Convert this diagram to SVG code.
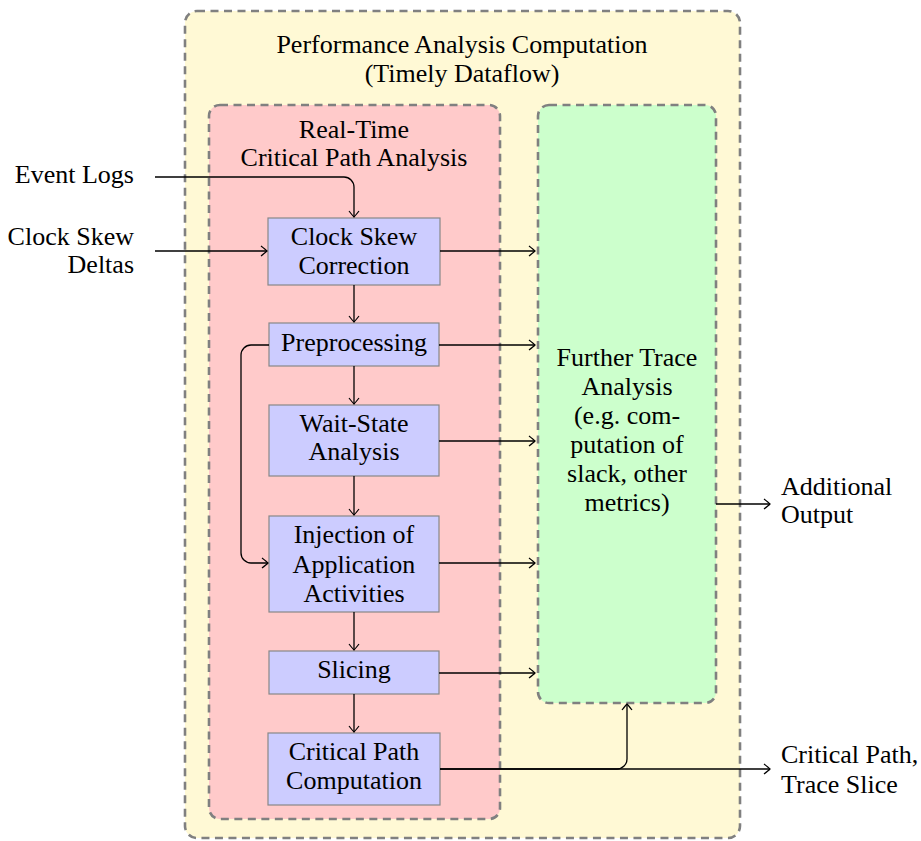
<svg xmlns="http://www.w3.org/2000/svg" width="921" height="841" viewBox="0 0 921 841">
  <defs>
    <marker id="arr" markerWidth="12" markerHeight="12" refX="0" refY="0" viewBox="-7 -6 8 12" orient="auto" markerUnits="userSpaceOnUse">
      <path d="M -6 -5 Q -1.5 -1.5 0 0 Q -1.5 1.5 -6 5" fill="none" stroke="#000" stroke-width="1.2"/>
    </marker>
  </defs>
  <style>
    text { font-family: "Liberation Serif", "Times New Roman", serif; font-size: 26px; fill: #000; }
    .c { text-anchor: middle; }
    .e { text-anchor: end; }
    .group { stroke: #808080; stroke-width: 2.6; stroke-dasharray: 8 5.5; }
    .box { fill: #CCCCFF; stroke: #888888; stroke-width: 1.2; }
    .conn path { fill: none; stroke: #000; stroke-width: 1.3; marker-end: url(#arr); }
  </style>

  <!-- outer container -->
  <g id="performance-analysis">
    <rect class="group" x="185" y="11" width="555" height="827" rx="12" fill="#FFF9D5"/>
    <text class="c" x="462" y="53">Performance Analysis Computation</text>
    <text class="c" x="462" y="82">(Timely Dataflow)</text>
  </g>

  <g id="critical-path-analysis">
    <rect class="group" x="209" y="105" width="291" height="714" rx="11" fill="#FFCACA"/>
    <text class="c" x="354" y="138">Real-Time</text>
    <text class="c" x="354" y="166">Critical Path Analysis</text>
  </g>

  <g id="further-trace-analysis">
    <rect class="group" x="538" y="105" width="178" height="598" rx="11" fill="#CCFFCC"/>
    <text class="c" x="627" y="366">Further Trace</text>
    <text class="c" x="627" y="395">Analysis</text>
    <text class="c" x="627" y="424">(e.g. com-</text>
    <text class="c" x="627" y="453">putation of</text>
    <text class="c" x="627" y="482">slack, other</text>
    <text class="c" x="627" y="511">metrics)</text>
  </g>

  <!-- processing stages -->
  <g id="clock-skew-correction">
    <rect class="box" x="268" y="218" width="172" height="67"/>
    <text class="c" x="354" y="245">Clock Skew</text>
    <text class="c" x="354" y="274">Correction</text>
  </g>
  <g id="preprocessing">
    <rect class="box" x="269" y="323" width="170" height="43"/>
    <text class="c" x="354" y="351">Preprocessing</text>
  </g>
  <g id="wait-state-analysis">
    <rect class="box" x="269" y="405" width="170" height="71"/>
    <text class="c" x="354" y="432">Wait-State</text>
    <text class="c" x="354" y="460">Analysis</text>
  </g>
  <g id="injection">
    <rect class="box" x="269" y="516" width="170" height="96"/>
    <text class="c" x="354" y="543">Injection of</text>
    <text class="c" x="354" y="573">Application</text>
    <text class="c" x="354" y="602">Activities</text>
  </g>
  <g id="slicing">
    <rect class="box" x="269" y="651" width="170" height="43"/>
    <text class="c" x="354" y="678">Slicing</text>
  </g>
  <g id="critical-path-computation">
    <rect class="box" x="268" y="733" width="172" height="72"/>
    <text class="c" x="354" y="760">Critical Path</text>
    <text class="c" x="354" y="789">Computation</text>
  </g>

  <!-- inputs and outputs -->
  <g id="event-logs"><text class="e" x="134" y="183">Event Logs</text></g>
  <g id="clock-skew-deltas">
    <text class="e" x="134" y="245">Clock Skew</text>
    <text class="e" x="134" y="273">Deltas</text>
  </g>
  <g id="additional-output">
    <text x="781" y="495">Additional</text>
    <text x="781" y="523">Output</text>
  </g>
  <g id="critical-path-output">
    <text x="781" y="763">Critical Path,</text>
    <text x="781" y="793">Trace Slice</text>
  </g>

  <g id="connectors" class="conn">
    <path d="M 155 177 H 344 A 10 10 0 0 1 354 187 V 217"/>
    <path d="M 155 251 H 267"/>
    <path d="M 440 251 H 535"/>
    <path d="M 354 285 V 322"/>
    <path d="M 439 345 H 535"/>
    <path d="M 269 345 H 251 A 10 10 0 0 0 241 355 V 553 A 10 10 0 0 0 251 563 H 268"/>
    <path d="M 354 366 V 404"/>
    <path d="M 439 441 H 535"/>
    <path d="M 354 476 V 515"/>
    <path d="M 439 563 H 535"/>
    <path d="M 354 612 V 650"/>
    <path d="M 439 673 H 535"/>
    <path d="M 354 694 V 732"/>
    <path d="M 440 769 H 770"/>
    <path d="M 440 769 H 617 A 10 10 0 0 0 627 759 V 704"/>
    <path d="M 716 504 H 770"/>
  </g>
</svg>
